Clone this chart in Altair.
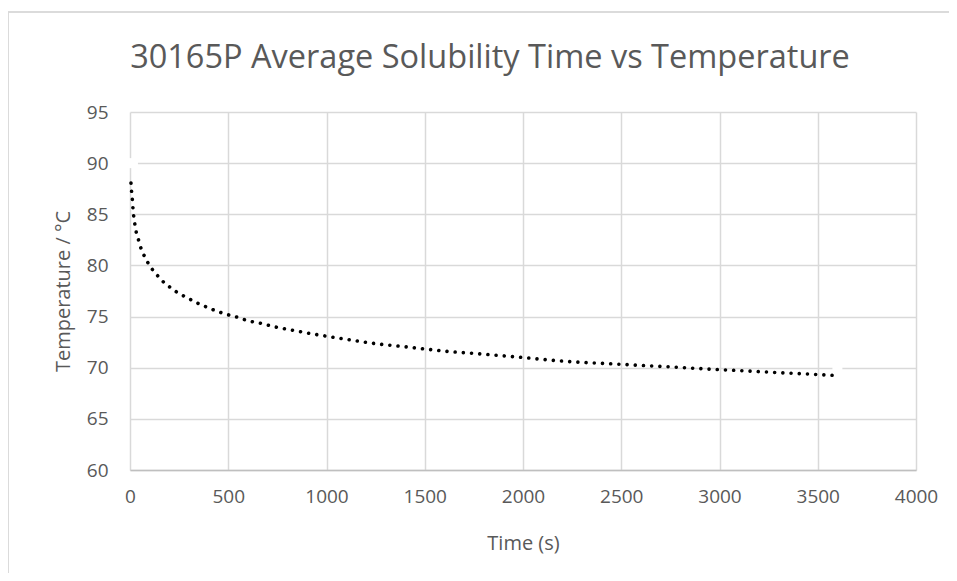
import altair as alt
import pandas as pd

# Trendline (dotted)
time_s = [5, 8, 12, 15, 19, 25, 32, 44, 56, 73, 93, 116, 143, 172, 204, 240, 277, 315, 352, 389,
          429, 469, 508, 547, 588, 629, 670, 711, 752, 794, 900, 1000, 1125, 1250, 1375, 1500,
          1625, 1750, 1875, 2000, 2125, 2250, 2375, 2500, 2625, 2750, 2875, 3000, 3100, 3200,
          3300, 3400, 3500, 3600]
temp_c = [88.05, 87.24, 86.43, 85.6, 84.8, 84.0, 83.23, 82.45, 81.67, 80.92, 80.2, 79.55, 78.94,
          78.35, 77.86, 77.37, 76.98, 76.6, 76.23, 75.94, 75.62, 75.35, 75.13, 74.93, 74.67, 74.47,
          74.32, 74.12, 73.93, 73.78, 73.4, 73.08, 72.7, 72.35, 72.1, 71.83, 71.58, 71.4, 71.2,
          71.0, 70.77, 70.58, 70.45, 70.33, 70.2, 70.08, 69.94, 69.81, 69.72, 69.62, 69.52,
          69.43, 69.33, 69.23]

# Measured points (white markers)
point_time = [15, 3600]
point_temp = [90, 70]

x_ticks = [0, 500, 1000, 1500, 2000, 2500, 3000, 3500, 4000]
y_ticks = [60, 65, 70, 75, 80, 85, 90, 95]

FONT = "Open Sans"
TXT = "#595959"

trend = pd.DataFrame({"t": time_s, "T": temp_c})
pts = pd.DataFrame({"t": point_time, "T": point_temp})

xs = alt.Scale(domain=[0, 4000], nice=False)
ys = alt.Scale(domain=[60, 95], nice=False, zero=False)

x_axis = alt.Axis(values=x_ticks, format="d", title="Time (s)", grid=True, ticks=False,
                  labelFlush=False, labelPadding=17, titlePadding=27,
                  domainColor="#bfbfbf", domainWidth=1.5)
y_axis = alt.Axis(values=y_ticks, format="d", title="Temperature / °C", grid=True, ticks=False,
                  labelFlush=False, domain=False, labelPadding=22, titlePadding=13)

points = alt.Chart(pts).mark_square(size=100, color="white", opacity=1).encode(
    x=alt.X("t:Q", scale=xs, axis=x_axis),
    y=alt.Y("T:Q", scale=ys, axis=y_axis),
)

line = alt.Chart(trend).mark_line(
    color="black", strokeWidth=3.6, strokeDash=[0.01, 8.2], strokeCap="round",
    interpolate="monotone"
).encode(
    x=alt.X("t:Q", scale=xs),
    y=alt.Y("T:Q", scale=ys),
)

frame_top = alt.Chart(pts).mark_rule(color="#d9d9d9", strokeWidth=1.5).encode(
    x=alt.value(-122), x2=alt.value(900), y=alt.value(-100)
)
frame_left = alt.Chart(pts).mark_rule(color="#d9d9d9", strokeWidth=1.5).encode(
    x=alt.value(-122), y=alt.value(-100), y2=alt.value(500)
)

chart = alt.layer(frame_top, frame_left, points, line).properties(
    width=786, height=358,
    autosize=alt.AutoSizeParams(type="none"),
    padding={"left": 122, "top": 104, "right": 33, "bottom": 103},
    background="white",
    title=alt.TitleParams(
        "30165P Average Solubility Time vs Temperature",
        font=FONT, fontSize=32.5, fontWeight="normal", color=TXT,
        anchor="middle", dx=-33, offset=0, dy=89, baseline="alphabetic",
    ),
).configure_view(stroke=None).configure_axis(
    labelFont=FONT, titleFont=FONT, labelFontSize=19, titleFontSize=20,
    labelColor=TXT, titleColor=TXT, titleFontWeight="normal",
    gridColor="#d9d9d9", gridWidth=1.5,
)

chart.save("out.html", embed_options={"renderer": "svg", "actions": False})
